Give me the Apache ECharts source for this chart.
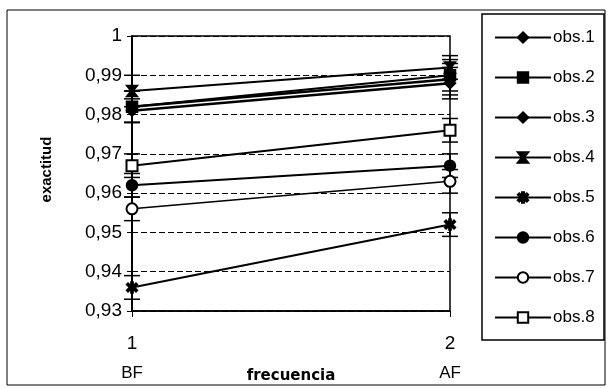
<!DOCTYPE html>
<html>
<head>
<meta charset="utf-8">
<script src="https://cdn.jsdelivr.net/npm/echarts@6/dist/echarts.min.js"></script>
<style>
  html, body { margin: 0; padding: 0; background: #fff; }
  #chart { width: 608px; height: 388px; }
</style>
</head>
<body>
<div id="chart"></div>
<script>
// frecuencia: 1 = BF, 2 = AF
const xTicks = ["1", "2"];
const xGroups = ["BF", "AF"];
const yTicks = ["0,93", "0,94", "0,95", "0,96", "0,97", "0,98", "0,99", "1"];

const names = ["obs.1", "obs.2", "obs.3", "obs.4", "obs.5", "obs.6", "obs.7", "obs.8"];
// exactitud [BF, AF]
const obs1 = [0.982, 0.989];
const obs2 = [0.982, 0.990];
const obs3 = [0.981, 0.988];
const obs4 = [0.986, 0.992];
const obs5 = [0.936, 0.952];
const obs6 = [0.962, 0.967];
const obs7 = [0.956, 0.963];
const obs8 = [0.967, 0.976];
// half width of the error bars [BF, AF]
const err1 = [0.004, 0.004];
const err2 = [0.004, 0.004];
const err3 = [0.003, 0.004];
const err4 = [0.004, 0.003];
const err5 = [0.003, 0.003];
const err6 = [0.003, 0.003];
const err7 = [0.003, 0.003];
const err8 = [0.003, 0.003];

const values = [obs1, obs2, obs3, obs4, obs5, obs6, obs7, obs8];
const errs = [err1, err2, err3, err4, err5, err6, err7, err8];

// marker shapes
const hourglass = "path://M0,0L10,0L6,5L10,10L0,10L4,5Z";
const asterisk = "path://M4,0H6V3.6L8.6,1L10,2.4L7.4,5L10,7.6L8.6,9L6,6.4V10H4V6.4L1.4,9L0,7.6L2.6,5L0,2.4L1.4,1L4,3.6Z";
const symbols = ["diamond", "rect", "diamond", hourglass, asterisk, "circle", "emptyCircle", "emptyRect"];
const widths = [2.5, 2, 2.5, 2, 2, 2, 1.5, 2];

const chart = echarts.init(document.getElementById("chart"));

const series = names.map((n, i) => ({
  name: n,
  type: "line",
  data: values[i].map((v, k) => [k + 1, v]),
  symbol: symbols[i],
  symbolSize: 11,
  lineStyle: { color: "#000", width: widths[i] },
  itemStyle: { color: "#000", borderColor: "#000", borderWidth: 1.5 },
  z: 3
}));

// error bars
const errData = [];
values.forEach((vals, i) => {
  vals.forEach((v, k) => errData.push([k + 1, v, errs[i][k]]));
});
series.push({
  type: "custom",
  silent: true,
  z: 2,
  data: errData,
  renderItem: function (params, api) {
    const x = api.value(0), y = api.value(1), e = api.value(2);
    const hi = api.coord([x, y + e]);
    const lo = api.coord([x, y - e]);
    const cap = 8;
    const st = { stroke: "#000", lineWidth: 1.5 };
    return {
      type: "group",
      children: [
        { type: "line", shape: { x1: hi[0], y1: hi[1], x2: lo[0], y2: lo[1] }, style: st },
        { type: "line", shape: { x1: hi[0] - cap, y1: hi[1], x2: hi[0] + cap, y2: hi[1] }, style: st },
        { type: "line", shape: { x1: lo[0] - cap, y1: lo[1], x2: lo[0] + cap, y2: lo[1] }, style: st }
      ]
    };
  }
});

chart.setOption({
  animation: false,
  backgroundColor: "#fff",
  textStyle: { fontFamily: "Liberation Sans, Arial, sans-serif", color: "#000" },
  graphic: [
    { type: "rect", shape: { x: 7, y: 10, width: 598, height: 375 }, style: { fill: "none", stroke: "#000", lineWidth: 1 } },
    { type: "rect", shape: { x: 482, y: 14, width: 122, height: 326 }, style: { fill: "none", stroke: "#000", lineWidth: 1.5 } }
  ],
  grid: {
    left: 132, right: 158, top: 36, bottom: 77,
    outerBoundsMode: "none",
    show: true, borderColor: "#000", borderWidth: 1.5, backgroundColor: "transparent"
  },
  legend: {
    orient: "vertical",
    left: 489,
    top: 24,
    itemWidth: 56,
    itemHeight: 13,
    itemGap: 23,
    data: names,
    textStyle: { fontSize: 17, color: "#000", padding: [0, 0, 0, -3] }
  },
  xAxis: {
    type: "value",
    min: 1,
    max: 2,
    interval: 1,
    name: "frecuencia",
    nameLocation: "middle",
    nameGap: 58,
    nameMoveOverlap: false,
    nameTextStyle: { fontSize: 15, fontWeight: "bold", fontFamily: "DejaVu Sans", color: "#000" },
    axisLine: { lineStyle: { color: "#000", width: 1.5 } },
    axisTick: { show: true, length: 6, lineStyle: { color: "#000" } },
    splitLine: { show: false },
    axisLabel: {
      margin: 16,
      formatter: function (v) {
        const i = Math.round(v) - 1;
        return "{n|" + xTicks[i] + "}\n{c|" + xGroups[i] + "}";
      },
      rich: {
        n: { fontSize: 19, lineHeight: 34, color: "#000" },
        c: { fontSize: 17, lineHeight: 24, color: "#000" }
      }
    }
  },
  yAxis: {
    type: "value",
    min: 0.93,
    max: 1,
    interval: 0.01,
    name: "exactitud",
    nameLocation: "middle",
    nameGap: 78,
    nameRotate: 90,
    nameTextStyle: { fontSize: 15, fontWeight: "bold", color: "#000", padding: [0, 0, 0, 8] },
    axisLine: { show: true, lineStyle: { color: "#000", width: 2 } },
    axisTick: { show: true, length: 5, lineStyle: { color: "#000" } },
    splitLine: { show: true, lineStyle: { color: "#000", type: [6, 3], width: 1 } },
    axisLabel: {
      margin: 10,
      fontSize: 19,
      color: "#000",
      formatter: function (v) {
        return yTicks[Math.round((v - 0.93) / 0.01)];
      }
    }
  },
  series: series
});
</script>
</body>
</html>
